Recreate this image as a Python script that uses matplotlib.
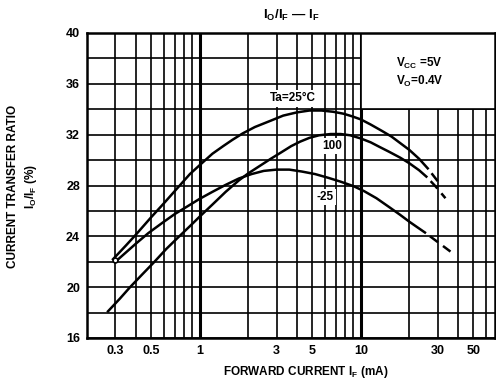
import numpy as np
import matplotlib
matplotlib.use("Agg")
import matplotlib.pyplot as plt
from matplotlib.patches import Rectangle

plt.rcParams['font.family'] = ['Liberation Sans', 'DejaVu Sans']
plt.rcParams['font.weight'] = 'bold'
plt.rcParams['mathtext.fontset'] = 'custom'
plt.rcParams['mathtext.rm'] = 'Liberation Sans:bold'
plt.rcParams['mathtext.it'] = 'Liberation Sans:bold'
plt.rcParams['mathtext.bf'] = 'Liberation Sans:bold'
plt.rcParams['mathtext.default'] = 'rm'

# forward current (mA) vs current transfer ratio (%)
if_25 = [0.29, 0.35, 0.4, 0.5, 0.6, 0.74, 0.87, 1.0, 1.2, 1.4, 1.6, 1.85, 2.2, 2.76, 3.3, 4.0,
         4.8, 5.7, 6.75, 7.8, 8.8, 10, 11.5, 13.5, 15.5, 17.5, 20, 23, 26]
ctr_25 = [22.2, 23.3, 24.1, 25.5, 26.6, 27.9, 28.9, 29.6, 30.5, 31.1, 31.6, 32.1, 32.6, 33.1, 33.5, 33.75,
          33.9, 33.9, 33.8, 33.65, 33.45, 33.2, 32.8, 32.3, 31.85, 31.35, 30.8, 30.1, 29.35]
if_25_ext = [26, 28.5, 31.5]
ctr_25_ext = [29.35, 28.7, 28.0]

if_100 = [0.27, 0.32, 0.37, 0.44, 0.52, 0.62, 0.74, 0.87, 1.0, 1.2, 1.45, 1.75, 2.0, 2.4, 2.76, 3.2,
          3.7, 4.2, 4.8, 5.5, 6.5, 7.5, 8.6, 10, 11.5, 13, 15, 17.5, 20, 23, 25.5]
ctr_100 = [18.1, 19.1, 20.0, 21.0, 21.95, 23.0, 23.95, 24.8, 25.55, 26.5, 27.5, 28.4, 28.95, 29.6, 30.1, 30.6,
           31.1, 31.45, 31.75, 31.95, 32.05, 32.05, 31.95, 31.7, 31.4, 31.05, 30.65, 30.2, 29.75, 29.2, 28.7]
if_100_ext = [25.5, 29, 33.5]
ctr_100_ext = [28.7, 27.95, 27.0]

if_m25 = [0.3, 0.35, 0.4, 0.48, 0.585, 0.7, 0.85, 1.0, 1.2, 1.45, 1.75, 2.1, 2.5, 3.0, 3.6, 4.3,
          5.2, 6.3, 7.5, 9.0, 10.5, 12.5, 15, 17.5, 20, 22.5, 25]
ctr_m25 = [22.0, 22.75, 23.4, 24.25, 25.05, 25.75, 26.4, 26.95, 27.5, 28.05, 28.55, 28.9, 29.15, 29.25, 29.25, 29.1,
           28.9, 28.6, 28.3, 27.95, 27.55, 27.0, 26.3, 25.7, 25.15, 24.7, 24.3]
if_m25_ext = [25, 30, 36]
ctr_m25_ext = [24.3, 23.55, 22.8]

x_labels = [0.3, 0.5, 1, 3, 5, 10, 30, 50]
x_label_txt = ['0.3', '0.5', '1', '3', '5', '10', '30', '50']
x_minor = [0.4, 0.6, 0.7, 0.8, 0.9, 2, 4, 6, 7, 8, 9, 20, 40, 60]
y_major = [16, 20, 24, 28, 32, 36, 40]
y_minor = [18, 22, 26, 30, 34, 38]

fig = plt.figure(figsize=(4.96, 3.85), dpi=100)
ax = fig.add_axes([87/496, 1-338/385, 408/496, 305/385])

ax.set_xscale('log')
ax.set_xlim(0.2, 68)
ax.set_ylim(16, 40)

ax.set_xticks(x_labels)
ax.set_xticklabels(x_label_txt)
ax.set_xticks(x_minor, minor=True)
ax.xaxis.set_minor_formatter(plt.NullFormatter())
ax.set_yticks(y_major)
ax.set_yticks(y_minor, minor=True)
ax.tick_params(which='both', length=0, labelsize=9, pad=5)
ax.grid(which='both', color='black', linewidth=1.2)
ax.set_axisbelow(True)
# decade lines look heavier in the print
for v in [1, 10]:
    ax.axvline(v, color='black', linewidth=2.2, zorder=0.6)

for s in ax.spines.values():
    s.set_linewidth(1.8)

# blank area behind the conditions
ax.add_patch(Rectangle((10, 34), 100, 6, facecolor='white', edgecolor='black',
                       linewidth=1.2, zorder=1))

lw = 1.8
dash = (4, (4, 2.5))
ax.plot(if_25, ctr_25, color='black', lw=lw, zorder=3)
ax.plot(if_25_ext, ctr_25_ext, color='black', lw=lw, ls=dash, zorder=3)
ax.plot(if_100, ctr_100, color='black', lw=lw, zorder=3)
ax.plot(if_100_ext, ctr_100_ext, color='black', lw=lw, ls=dash, zorder=3)
ax.plot(if_m25, ctr_m25, color='black', lw=lw, zorder=3)
ax.plot(if_m25_ext, ctr_m25_ext, color='black', lw=lw, ls=dash, zorder=3)
ax.plot([0.3], [22.1], marker='o', ms=3.5, mfc='white', mec='black', mew=1.2, zorder=4)

box = dict(facecolor='white', edgecolor='none', pad=1.5)
ax.text(3.8, 34.85, 'Ta=25°C', fontsize=8.5, ha='center', va='center', bbox=box, zorder=2)
ax.text(6.6, 31.1, '100', fontsize=8.5, ha='center', va='center', bbox=box, zorder=2)
ax.text(6.0, 27.1, '-25', fontsize=8.5, ha='center', va='center', bbox=box, zorder=2)
ax.text(16.6, 37.6, 'V$_{CC}$ =5V', fontsize=8.5, ha='left', va='center', zorder=2)
ax.text(16.6, 36.2, 'V$_O$=0.4V', fontsize=8.5, ha='left', va='center', zorder=2)

fig.text(291/496, 1-15/385, 'I$_O$/I$_F$ — I$_F$', fontsize=9.5, ha='center', va='center')
fig.text(306/496, 1-372/385, 'FORWARD CURRENT I$_F$ (mA)', fontsize=8.5, ha='center', va='center')
fig.text(23/496, 1-186/385, 'CURRENT TRANSFER RATIO\nI$_O$/I$_F$ (%)', fontsize=8.5,
         ha='center', va='center', rotation=90, multialignment='center', linespacing=1.4)

fig.savefig('out.png', dpi=100)
